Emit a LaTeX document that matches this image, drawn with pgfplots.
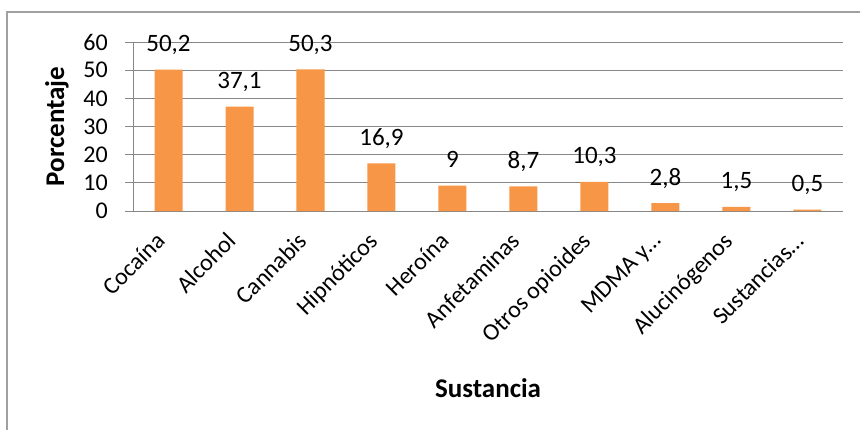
\documentclass[border=0pt]{standalone}
\usepackage{fontspec}
\setmainfont{Carlito}
\usepackage{pgfplots}
\pgfplotsset{compat=1.18}
\definecolor{barc}{HTML}{F79646}
\definecolor{gridc}{HTML}{878787}
\definecolor{framec}{HTML}{A0A0A0}
\begin{document}
\fontsize{24}{28}\selectfont
\begin{tikzpicture}[x=1pt,y=1pt]
\useasboundingbox (0,0) rectangle (860,429);
\draw[framec, line width=1.6pt] (7,-5) -- (7,417) -- (865,417);
\begin{axis}[
  at={(133pt,218pt)}, anchor=south west,
  scale only axis, width=710pt, height=169pt,
  clip=false,
  ymin=0, ymax=60, ytick={0,10,...,60},
  xmin=-0.5, xmax=9.5,
  xtick={0,...,9},
  xticklabels={Cocaína,Alcohol,Cannabis,Hipnóticos,Heroína,Anfetaminas,Otros opioides,MDMA y…,Alucinógenos,Sustancias…},
  minor xtick={-0.5,0.5,...,9.5},
  axis x line*=bottom, axis y line*=left,
  axis line style={gridc, line width=0.9pt, -},
  ymajorgrids, major grid style={gridc, line width=0.9pt},
  tick align=outside,
  major tick length=8pt, minor tick length=6pt,
  xtick style={draw=none},
  minor x tick style={gridc, line width=0.9pt},
  ytick style={gridc, line width=0.9pt},
  tick label style={font=\fontsize{24}{28}\selectfont},
  yticklabel style={xshift=-9pt},
  xticklabel style={rotate=45, anchor=north east, inner sep=2pt, xshift=-16pt, yshift=3.5pt},
  /pgf/number format/.cd, use comma, assume math mode=true, /pgfplots/.cd,
  ybar, bar width=28pt,
  nodes near coords,
  every node near coord/.append style={font=\fontsize{25}{30}\selectfont, anchor=base, yshift=18pt},
  xlabel={\textbf{Sustancia}},
  xlabel style={at={(axis description cs:0.5,0)}, anchor=center, yshift=-177pt, font=\fontsize{27}{32}\selectfont},
  ylabel={\textbf{Porcentaje}},
  ylabel style={at={(axis description cs:-0.107,0.5)}, anchor=center, font=\fontsize{27}{32}\selectfont},
]
\addplot[fill=barc, draw=none] coordinates {(0,50.2) (1,37.1) (2,50.3) (3,16.9) (4,9) (5,8.7) (6,10.3) (7,2.8) (8,1.5) (9,0.5)};
\end{axis}
\end{tikzpicture}
\end{document}
